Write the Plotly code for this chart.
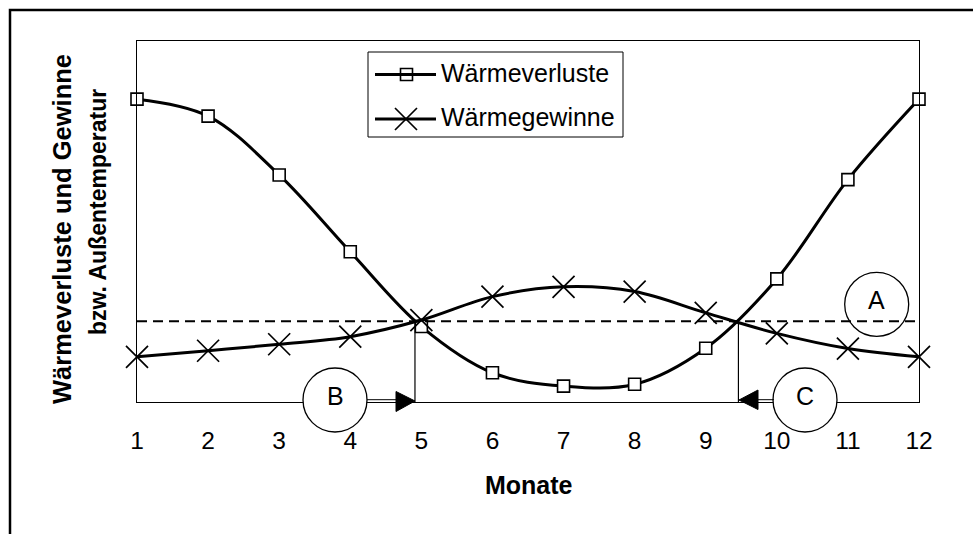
import plotly.graph_objects as go

# ---------------- data ----------------
months = [1, 2, 3, 4, 5, 6, 7, 8, 9, 10, 11, 12]
waermeverluste = [83.9, 79.2, 62.9, 41.6, 20.9, 8.1, 4.4, 4.9, 14.9, 34.1, 61.6, 83.9]
waermegewinne = [12.5, 14.2, 16.0, 18.1, 22.7, 29.2, 31.9, 30.6, 24.7, 19.0, 14.8, 12.5]
grenz_level = 22.4            # dashed line (A)
heiz_grenzen = [4.91, 9.46]   # B (start) and C (end) months
tick_labels = [str(m) for m in months]
series_names = ["Wärmeverluste", "Wärmegewinne"]
y_title_lines = ["Wärmeverluste und Gewinne", "bzw. Außentemperatur"]
x_title = "Monate"
circle_labels = ["A", "B", "C"]

# ---------------- layout geometry (pixels) ----------------
W, H = 973, 534
L, R, T, B = 137, 54, 41, 132
PW, PH = W - L - R, H - T - B
FONT = "Liberation Sans, Arial, sans-serif"


def px(xp):
    return (xp - L) / PW


def py(yp):
    return (H - B - yp) / PH


fig = go.Figure()

fig.add_trace(go.Scatter(
    x=months, y=waermeverluste, mode="lines+markers", name=series_names[0],
    line=dict(color="black", width=3, shape="spline", smoothing=1.0),
    marker=dict(symbol="square", size=12, color="white",
                line=dict(color="black", width=1.6)),
    showlegend=False, cliponaxis=False))

fig.add_trace(go.Scatter(
    x=months, y=waermegewinne, mode="lines+markers", name=series_names[1],
    line=dict(color="black", width=3, shape="spline", smoothing=1.0),
    marker=dict(symbol="x-thin", size=22, color="black",
                line=dict(color="black", width=1.7)),
    showlegend=False, cliponaxis=False))

# dashed level line
fig.add_trace(go.Scatter(
    x=[months[0], months[-1]], y=[grenz_level, grenz_level], mode="lines",
    line=dict(color="black", width=2, dash="10px,6px"),
    showlegend=False, hoverinfo="skip"))

shapes = []
annotations = []

# outer border (only top/left visible)
shapes.append(dict(type="rect", xref="paper", yref="paper",
                   x0=px(10), y0=py(H + 40), x1=px(W + 40), y1=py(10),
                   line=dict(color="black", width=2.5), layer="below"))

# vertical lines at the heating limits
for xv in heiz_grenzen:
    shapes.append(dict(type="line", xref="x", yref="y", x0=xv, x1=xv,
                       y0=0, y1=grenz_level, line=dict(color="black", width=1.2)))

# circles
circ = {"A": (876.7, 304.3, "rgba(0,0,0,0)"),
        "B": (335, 400, "white"),
        "C": (805, 400, "white")}
for lab in circle_labels:
    cx, cy, fill = circ[lab]
    r = 32
    shapes.append(dict(type="circle", xref="paper", yref="paper",
                       x0=px(cx - r), x1=px(cx + r), y0=py(cy + r), y1=py(cy - r),
                       fillcolor=fill, line=dict(color="black", width=1.3),
                       layer="above"))
    annotations.append(dict(x=px(cx), y=py(cy - 4), xref="paper", yref="paper",
                            text=lab, showarrow=False,
                            font=dict(family=FONT, size=25, color="black"),
                            xanchor="center", yanchor="middle"))

# arrows B -> and <- C
shapes.append(dict(type="line", xref="paper", yref="paper",
                   x0=px(367), x1=px(397), y0=py(399.7), y1=py(399.7),
                   line=dict(color="black", width=1), layer="above"))
shapes.append(dict(type="path", xref="paper", yref="paper",
                   path=f"M {px(396)} {py(391.5)} L {px(415)} {py(401)} L {px(396)} {py(411.5)} Z",
                   fillcolor="black", line=dict(color="black", width=1), layer="above"))
shapes.append(dict(type="line", xref="paper", yref="paper",
                   x0=px(757), x1=px(774), y0=py(399.7), y1=py(399.7),
                   line=dict(color="black", width=1), layer="above"))
shapes.append(dict(type="path", xref="paper", yref="paper",
                   path=f"M {px(758)} {py(390)} L {px(739)} {py(400)} L {px(758)} {py(409.5)} Z",
                   fillcolor="black", line=dict(color="black", width=1), layer="above"))

# custom legend box
shapes.append(dict(type="rect", xref="paper", yref="paper",
                   x0=px(368), x1=px(623), y0=py(137), y1=py(52),
                   fillcolor="white", line=dict(color="black", width=1), layer="below"))
leg_rows = [(74.5, "square"), (119, "x-thin")]
for (ly, sym), name in zip(leg_rows, series_names):
    shapes.append(dict(type="line", xref="paper", yref="paper",
                       x0=px(375), x1=px(436), y0=py(ly), y1=py(ly),
                       line=dict(color="black", width=3)))
    annotations.append(dict(x=px(439), y=py(ly - 1.5), xref="paper", yref="paper",
                            text=name, showarrow=False, xanchor="left", yanchor="middle",
                            font=dict(family=FONT, size=25, color="black")))

# legend marker glyphs on an overlay pixel axis
fig.add_trace(go.Scatter(
    x=[406.5], y=[leg_rows[0][0]], xaxis="x2", yaxis="y2", mode="markers",
    marker=dict(symbol="square", size=12, color="white", line=dict(color="black", width=1.6)),
    showlegend=False, hoverinfo="skip"))
fig.add_trace(go.Scatter(
    x=[406], y=[leg_rows[1][0]], xaxis="x2", yaxis="y2", mode="markers",
    marker=dict(symbol="x-thin", size=22, color="black", line=dict(color="black", width=1.7)),
    showlegend=False, hoverinfo="skip"))

# axis titles
annotations.append(dict(x=px(61.5), y=py(229.5), xref="paper", yref="paper",
                        text=f"<b>{y_title_lines[0]}</b>", showarrow=False, textangle=-90,
                        font=dict(family=FONT, size=25.5, color="black"),
                        xanchor="center", yanchor="middle"))
annotations.append(dict(x=px(98), y=py(212), xref="paper", yref="paper",
                        text=f"<b>{y_title_lines[1]}</b>", showarrow=False, textangle=-90,
                        font=dict(family=FONT, size=23, color="black"),
                        xanchor="center", yanchor="middle"))
annotations.append(dict(x=px(529), y=py(485), xref="paper", yref="paper",
                        text=f"<b>{x_title}</b>", showarrow=False,
                        font=dict(family=FONT, size=25, color="black"),
                        xanchor="center", yanchor="middle"))

fig.update_layout(
    width=W, height=H,
    margin=dict(l=L, r=R, t=T, b=B, pad=0),
    paper_bgcolor="white", plot_bgcolor="white",
    font=dict(family=FONT, color="black"),
    showlegend=False,
    shapes=shapes, annotations=annotations,
    xaxis=dict(range=[1, 12], tickvals=months, ticktext=tick_labels,
               showgrid=False, zeroline=False, showline=True, mirror=True,
               linecolor="black", linewidth=1, ticks="outside", ticklen=17,
               tickcolor="rgba(0,0,0,0)", tickfont=dict(family=FONT, size=24.5, color="black")),
    yaxis=dict(range=[0, 100], showticklabels=False, ticks="", showgrid=False,
               zeroline=False, showline=True, mirror=True, linecolor="black", linewidth=1),
    xaxis2=dict(range=[L, L + PW], overlaying="x", visible=False),
    yaxis2=dict(range=[H - B, T], overlaying="y", visible=False),
)

fig.write_html("out.html")
